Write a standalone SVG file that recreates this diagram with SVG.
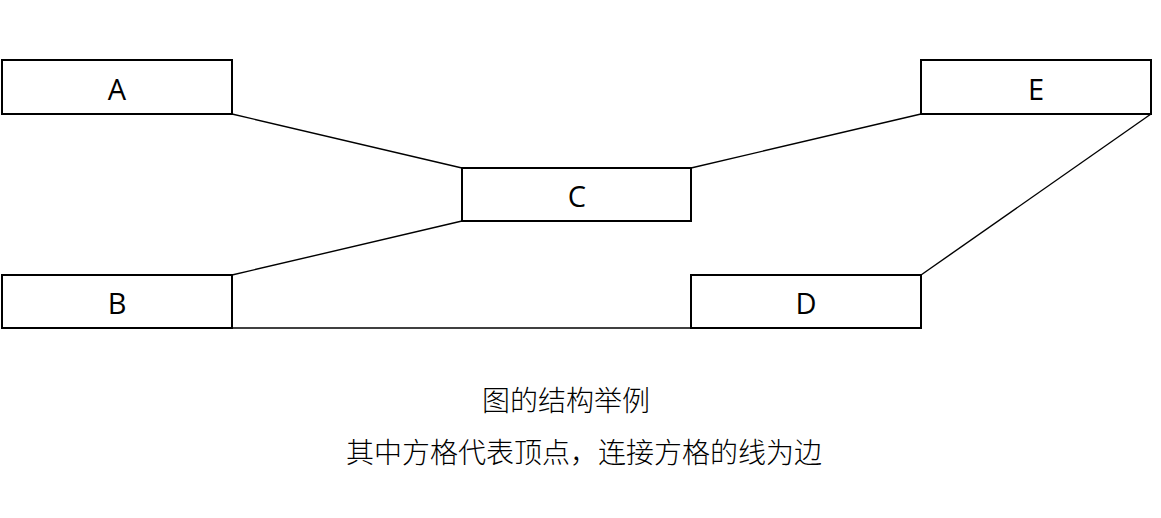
<svg xmlns="http://www.w3.org/2000/svg" width="1161" height="518" viewBox="0 0 1161 518">
<style>
.box{fill:#fff;stroke:#000;stroke-width:2}
.lbl{font-family:"Open Sans","Liberation Sans",sans-serif;font-size:29px;fill:#000;text-anchor:middle;dominant-baseline:central}
.edge{stroke:#000;stroke-width:1.4;fill:none}
.cap{font-family:"Noto Sans CJK SC",sans-serif;font-size:28px;font-weight:300;fill:#000}
</style>
<rect width="1161" height="518" fill="#fff"/>
<g id="connectors">
<line class="edge" x1="232" y1="114" x2="462" y2="168"/>
<line class="edge" x1="232" y1="275" x2="462" y2="221"/>
<line class="edge" x1="691" y1="168" x2="921" y2="114"/>
<line class="edge" x1="1151" y1="114" x2="921" y2="275"/>
<line class="edge" x1="232" y1="328" x2="691" y2="328"/>
</g>
<g id="A"><rect class="box" x="2" y="60" width="230" height="54"/><text class="lbl" x="117" y="88">A</text></g>
<g id="B"><rect class="box" x="2" y="275" width="230" height="53"/><text class="lbl" x="117" y="302">B</text></g>
<g id="C"><rect class="box" x="462" y="168" width="229" height="53"/><text class="lbl" x="577" y="195">C</text></g>
<g id="D"><rect class="box" x="691" y="275" width="230" height="53"/><text class="lbl" x="806" y="302">D</text></g>
<g id="E"><rect class="box" x="921" y="60" width="230" height="54"/><text class="lbl" x="1036" y="88">E</text></g>
<text class="cap" x="482" y="411">图的结构举例</text>
<text class="cap" x="346" y="463">其中方格代表顶点，连接方格的线为边</text>
</svg>
